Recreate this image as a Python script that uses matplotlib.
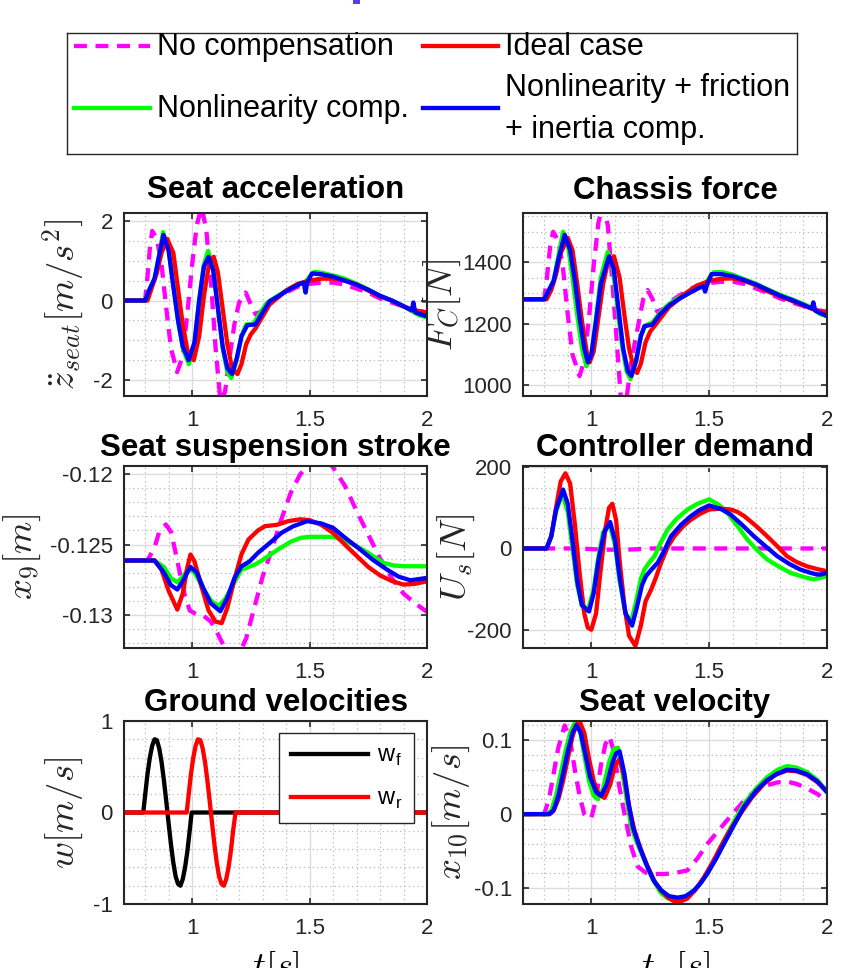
import numpy as np
import matplotlib
matplotlib.use("Agg")
import matplotlib.pyplot as plt
from matplotlib.ticker import MultipleLocator
from matplotlib.lines import Line2D
from matplotlib.patches import Rectangle

plt.rcParams.update({
    "font.family": ["Liberation Sans", "DejaVu Sans"],
    "mathtext.fontset": "cm",
    "axes.unicode_minus": False,
})

MAG, GRN, RED, BLU = "#ff00ff", "#00ff00", "#ff0000", "#0000ff"
INK = "#262626"

# ---------------------------------------------------------------------------
# data
# ---------------------------------------------------------------------------
# seat acceleration [m/s^2]
acc_t_nc = [0.70, 0.80, 0.81, 0.82, 0.83, 0.85, 0.87, 0.89, 0.91, 0.936, 0.96, 0.98, 1.00, 1.02, 1.04,
            1.06, 1.08, 1.10, 1.12, 1.14, 1.16, 1.18, 1.20, 1.228, 1.25, 1.27, 1.30, 1.34, 1.40, 1.45,
            1.50, 1.55, 1.60, 1.65, 1.70, 1.75, 1.80, 1.85, 1.90, 1.95, 2.00]
acc_nc = [0, 0, 0.6, 1.3, 1.75, 1.55, 0.9, -0.2, -1.2, -1.8, -1.4, -0.3, 0.9, 1.9, 2.35,
          1.8, 0.5, -1.2, -2.5, -2.3, -1.4, -0.6, -0.05, 0.2, -0.1, -0.35, -0.25, 0.0, 0.2, 0.35,
          0.42, 0.45, 0.45, 0.4, 0.3, 0.2, 0.05, -0.05, -0.15, -0.25, -0.3]
acc_t_id = [0.70, 0.81, 0.83, 0.85, 0.87, 0.894, 0.92, 0.94, 0.96, 0.98, 1.007, 1.03, 1.05, 1.07, 1.092,
            1.11, 1.13, 1.15, 1.17, 1.193, 1.21, 1.23, 1.25, 1.27, 1.30, 1.33, 1.36, 1.40, 1.45, 1.50,
            1.55, 1.60, 1.65, 1.70, 1.75, 1.80, 1.85, 1.90, 1.95, 2.00]
acc_id = [0, 0, 0.35, 0.7, 1.2, 1.55, 1.2, 0.3, -0.6, -1.25, -1.5, -0.9, 0.1, 0.85, 1.1,
          0.7, -0.2, -1.1, -1.7, -1.85, -1.6, -1.1, -0.85, -0.7, -0.4, -0.1, 0.05, 0.25, 0.42, 0.5,
          0.55, 0.55, 0.5, 0.4, 0.25, 0.1, 0.0, -0.15, -0.25, -0.3]
acc_t_nl = [0.70, 0.80, 0.82, 0.84, 0.855, 0.876, 0.90, 0.92, 0.94, 0.96, 0.986, 1.01, 1.03, 1.05, 1.068,
            1.09, 1.11, 1.13, 1.15, 1.167, 1.19, 1.21, 1.23, 1.26, 1.29, 1.32, 1.36, 1.40, 1.45, 1.48,
            1.50, 1.52, 1.55, 1.60, 1.65, 1.70, 1.75, 1.80, 1.85, 1.90, 1.94, 1.97, 2.00]
acc_nl = [0, 0, 0.3, 0.55, 0.95, 1.72, 1.3, 0.4, -0.5, -1.2, -1.6, -1.1, 0.0, 0.9, 1.25,
          0.8, -0.2, -1.2, -1.8, -1.95, -1.5, -0.9, -0.6, -0.6, -0.3, -0.05, 0.1, 0.25, 0.4, 0.45,
          0.6, 0.72, 0.7, 0.63, 0.55, 0.42, 0.28, 0.12, 0.0, -0.15, -0.28, -0.38, -0.42]
acc_t_fi = [0.70, 0.80, 0.82, 0.84, 0.855, 0.878, 0.90, 0.92, 0.94, 0.96, 0.985, 1.01, 1.03, 1.05, 1.07,
            1.09, 1.11, 1.13, 1.15, 1.17, 1.19, 1.21, 1.235, 1.27, 1.30, 1.33, 1.37, 1.42, 1.46, 1.475,
            1.483, 1.49, 1.51, 1.55, 1.60, 1.65, 1.70, 1.75, 1.80, 1.85, 1.90, 1.935, 1.942, 1.95, 2.00]
acc_fi = [0, 0, 0.3, 0.55, 1.0, 1.65, 1.25, 0.35, -0.5, -1.15, -1.5, -1.05, 0.0, 0.85, 1.1,
          0.75, -0.2, -1.15, -1.7, -1.85, -1.45, -0.9, -0.62, -0.6, -0.3, -0.02, 0.12, 0.3, 0.42, 0.45,
          0.2, 0.45, 0.68, 0.66, 0.6, 0.5, 0.4, 0.27, 0.12, 0.0, -0.14, -0.25, -0.05, -0.3, -0.4]

# chassis force [N]
fc_t_nc = [0.70, 0.80, 0.81, 0.825, 0.838, 0.86, 0.88, 0.90, 0.92, 0.95, 0.97, 0.99, 1.01, 1.03, 1.05,
           1.07, 1.09, 1.11, 1.127, 1.15, 1.17, 1.20, 1.22, 1.239, 1.26, 1.28, 1.31, 1.35, 1.40, 1.45,
           1.50, 1.55, 1.60, 1.65, 1.70, 1.75, 1.80, 1.85, 1.90, 1.95, 2.00]
fc_nc = [1280, 1280, 1340, 1450, 1500, 1470, 1380, 1230, 1100, 1030, 1080, 1220, 1390, 1530, 1590,
         1520, 1330, 1120, 940, 960, 1080, 1200, 1280, 1310, 1280, 1240, 1250, 1280, 1305, 1325,
         1333, 1337, 1337, 1330, 1315, 1300, 1283, 1270, 1258, 1245, 1240]
fc_t_id = [0.70, 0.81, 0.83, 0.85, 0.87, 0.90, 0.92, 0.94, 0.96, 0.98, 0.993, 1.01, 1.03, 1.05, 1.07,
           1.096, 1.12, 1.14, 1.16, 1.18, 1.194, 1.21, 1.23, 1.25, 1.27, 1.30, 1.33, 1.37, 1.40, 1.45,
           1.50, 1.55, 1.60, 1.65, 1.70, 1.75, 1.80, 1.85, 1.90, 1.95, 2.00]
fc_id = [1280, 1280, 1310, 1360, 1430, 1480, 1440, 1330, 1210, 1110, 1075, 1110, 1220, 1330, 1400,
         1420, 1350, 1230, 1120, 1055, 1040, 1070, 1140, 1175, 1195, 1225, 1255, 1280, 1300, 1325,
         1340, 1347, 1348, 1340, 1325, 1305, 1290, 1275, 1260, 1245, 1235]
fc_t_nl = [0.70, 0.80, 0.82, 0.84, 0.86, 0.88, 0.90, 0.92, 0.94, 0.96, 0.979, 1.00, 1.02, 1.04, 1.07,
           1.09, 1.11, 1.13, 1.15, 1.166, 1.19, 1.21, 1.23, 1.26, 1.29, 1.33, 1.37, 1.42, 1.46, 1.48,
           1.50, 1.52, 1.56, 1.60, 1.65, 1.70, 1.75, 1.80, 1.85, 1.90, 1.94, 1.97, 2.00]
fc_nl = [1280, 1280, 1310, 1340, 1420, 1500, 1460, 1350, 1230, 1120, 1062, 1100, 1220, 1350, 1435,
         1390, 1260, 1130, 1045, 1020, 1080, 1160, 1195, 1205, 1235, 1265, 1285, 1305, 1320, 1325,
         1350, 1368, 1368, 1360, 1345, 1330, 1312, 1295, 1280, 1265, 1250, 1232, 1225]
fc_t_fi = [0.70, 0.80, 0.82, 0.84, 0.86, 0.887, 0.91, 0.93, 0.95, 0.97, 0.985, 1.00, 1.02, 1.04, 1.075,
           1.095, 1.115, 1.135, 1.155, 1.17, 1.19, 1.21, 1.225, 1.26, 1.29, 1.33, 1.37, 1.42, 1.46, 1.475,
           1.483, 1.49, 1.51, 1.55, 1.60, 1.65, 1.70, 1.75, 1.80, 1.85, 1.90, 1.935, 1.942, 1.95, 2.00]
fc_fi = [1280, 1280, 1310, 1340, 1410, 1490, 1440, 1340, 1220, 1120, 1075, 1100, 1210, 1330, 1420,
         1380, 1250, 1120, 1045, 1030, 1080, 1160, 1192, 1198, 1230, 1260, 1280, 1302, 1318, 1322,
         1305, 1325, 1362, 1362, 1355, 1342, 1328, 1310, 1292, 1278, 1262, 1250, 1270, 1243, 1225]

# seat suspension stroke x9 [m]
x9_t_nc = [0.70, 0.81, 0.84, 0.86, 0.888, 0.91, 0.93, 0.95, 0.97, 0.99, 1.02, 1.05, 1.08, 1.11, 1.14,
           1.17, 1.20, 1.23, 1.26, 1.30, 1.34, 1.38, 1.42, 1.46, 1.50, 1.55, 1.58, 1.60, 1.65, 1.70,
           1.75, 1.80, 1.85, 1.90, 1.95, 2.00]
x9_nc = [-0.12614, -0.12614, -0.1252, -0.1241, -0.12357, -0.1241, -0.1256, -0.1272, -0.1287, -0.1297,
         -0.1300, -0.1301, -0.1305, -0.1314, -0.1324, -0.1329, -0.1328, -0.1317, -0.1298, -0.1273,
         -0.1253, -0.1232, -0.1213, -0.1200, -0.1192, -0.1189, -0.1190, -0.1195, -0.1208, -0.1226,
         -0.1243, -0.1260, -0.1274, -0.1285, -0.1292, -0.1298]
x9_t_id = [0.70, 0.84, 0.87, 0.90, 0.937, 0.96, 0.98, 0.993, 1.01, 1.04, 1.07, 1.10, 1.126, 1.15, 1.18,
           1.21, 1.24, 1.28, 1.31, 1.36, 1.41, 1.46, 1.50, 1.55, 1.60, 1.65, 1.70, 1.75, 1.80, 1.85,
           1.90, 1.95, 2.00]
x9_id = [-0.12614, -0.12614, -0.1268, -0.1283, -0.12964, -0.1285, -0.1266, -0.12571, -0.1262, -0.1280,
         -0.1297, -0.1305, -0.1306, -0.1295, -0.1275, -0.1257, -0.12464, -0.1240, -0.12369, -0.1236,
         -0.12333, -0.1232, -0.12326, -0.1236, -0.12417, -0.1250, -0.1258, -0.1266, -0.1272, -0.1276,
         -0.12786, -0.1278, -0.12762]
x9_t_nl = [0.70, 0.84, 0.88, 0.91, 0.937, 0.96, 0.986, 1.01, 1.05, 1.08, 1.112, 1.14, 1.17, 1.21, 1.24,
           1.267, 1.30, 1.365, 1.42, 1.463, 1.50, 1.55, 1.60, 1.65, 1.70, 1.75, 1.815, 1.86, 1.91, 2.00]
x9_nl = [-0.12614, -0.12614, -0.1266, -0.1274, -0.12769, -0.1273, -0.12667, -0.1270, -0.1282, -0.1290,
         -0.1294, -0.1289, -0.1280, -0.12679, -0.1266, -0.12643, -0.1261, -0.12536, -0.1248, -0.12452,
         -0.12445, -0.12445, -0.12445, -0.1247, -0.12512, -0.1256, -0.12631, -0.1265, -0.12655, -0.12655]
x9_t_fi = [0.70, 0.84, 0.88, 0.91, 0.937, 0.96, 0.993, 1.02, 1.05, 1.08, 1.12, 1.15, 1.18, 1.21, 1.245,
           1.28, 1.33, 1.38, 1.43, 1.49, 1.55, 1.60, 1.65, 1.716, 1.77, 1.83, 1.88, 1.93, 2.00]
x9_fi = [-0.12614, -0.12614, -0.1270, -0.1279, -0.12821, -0.1276, -0.1266, -0.1270, -0.1282, -0.1292,
         -0.12976, -0.1288, -0.1274, -0.12655, -0.1262, -0.1256, -0.1249, -0.12417, -0.1237, -0.12333,
         -0.1235, -0.12381, -0.1245, -0.12536, -0.1261, -0.12679, -0.1273, -0.12755, -0.12738]

# controller demand Us [N]
us_t_nc = [0.70, 0.95, 1.05, 1.15, 1.25, 2.00]
us_nc = [0, 0, -3, -3, 0, 0]
us_t_id = [0.70, 0.81, 0.83, 0.85, 0.87, 0.89, 0.91, 0.93, 0.95, 0.97, 0.985, 1.00, 1.02, 1.04, 1.06,
           1.075, 1.089, 1.105, 1.12, 1.14, 1.16, 1.187, 1.21, 1.23, 1.254, 1.275, 1.296, 1.325, 1.352,
           1.39, 1.423, 1.46, 1.50, 1.55, 1.59, 1.62, 1.648, 1.70, 1.746, 1.79, 1.83, 1.87, 1.915, 1.96,
           2.00]
us_id = [0, 0, 30, 100, 165, 185, 160, 60, -60, -160, -195, -200, -160, -50, 50,
         100, 110, 70, -30, -140, -215, -240, -190, -130, -101, -70, -35, 5, 30,
         55, 71, 85, 96, 98, 96, 90, 80, 55, 30, 5, -19, -33, -44, -51, -56]
us_t_nl = [0.70, 0.81, 0.83, 0.85, 0.876, 0.90, 0.92, 0.94, 0.96, 0.986, 1.01, 1.03, 1.05, 1.077, 1.10,
           1.12, 1.145, 1.169, 1.19, 1.21, 1.225, 1.245, 1.268, 1.295, 1.324, 1.36, 1.408, 1.45, 1.50,
           1.54, 1.577, 1.62, 1.662, 1.70, 1.746, 1.80, 1.845, 1.90, 1.944, 2.00]
us_nl = [0, 0, 30, 90, 135, 90, 0, -90, -140, -150, -100, -20, 40, 60, 10,
         -80, -160, -180, -130, -75, -52, -35, -19, 15, 47, 72, 96, 110, 121,
         108, 88, 55, 22, -2, -27, -46, -60, -70, -76, -68]
us_t_fi = [0.70, 0.81, 0.83, 0.85, 0.88, 0.90, 0.92, 0.94, 0.96, 0.99, 1.01, 1.03, 1.055, 1.08, 1.10,
           1.12, 1.145, 1.173, 1.195, 1.215, 1.232, 1.255, 1.282, 1.31, 1.338, 1.38, 1.423, 1.46, 1.50,
           1.55, 1.59, 1.64, 1.69, 1.74, 1.789, 1.84, 1.887, 1.93, 1.958, 1.975, 2.00]
us_fi = [0, 0, 30, 95, 145, 110, 20, -80, -140, -155, -110, -30, 40, 65, 20,
         -70, -160, -190, -140, -90, -68, -52, -35, -5, 30, 58, 80, 95, 106,
         97, 84, 58, 30, 5, -19, -38, -52, -60, -64, -64, -60]

# ground velocities [m/s]
w_t_f = [0.70, 0.792, 0.80, 0.81, 0.82, 0.83, 0.84, 0.85, 0.86, 0.87, 0.88, 0.89, 0.90, 0.91, 0.92,
         0.93, 0.94, 0.95, 0.96, 0.97, 0.98, 0.99, 0.998, 2.00]
w_f = [0, 0, 0.19, 0.42, 0.60, 0.73, 0.80, 0.79, 0.70, 0.55, 0.35, 0.12, -0.12, -0.35, -0.55,
       -0.70, -0.78, -0.80, -0.73, -0.60, -0.42, -0.19, 0, 0]
w_t_r = [0.70, 0.977, 0.985, 0.995, 1.005, 1.015, 1.025, 1.035, 1.045, 1.055, 1.065, 1.075, 1.085,
         1.095, 1.105, 1.115, 1.125, 1.135, 1.145, 1.155, 1.165, 1.175, 1.185, 2.00]
w_r = [0, 0, 0.19, 0.42, 0.60, 0.73, 0.80, 0.79, 0.70, 0.55, 0.35, 0.12, -0.12, -0.35, -0.55,
       -0.70, -0.78, -0.80, -0.73, -0.60, -0.42, -0.19, 0, 0]

# seat velocity x10 [m/s]
x10_t_nc = [0.70, 0.80, 0.82, 0.84, 0.86, 0.887, 0.91, 0.93, 0.95, 0.97, 0.99, 1.00, 1.02, 1.04, 1.06,
            1.077, 1.095, 1.12, 1.141, 1.17, 1.197, 1.23, 1.268, 1.31, 1.352, 1.408, 1.45, 1.493,
            1.535, 1.577, 1.62, 1.662, 1.70, 1.746, 1.79, 1.83, 1.87, 1.915, 1.96, 2.00]
x10_nc = [0, 0, 0.02, 0.055, 0.09, 0.12, 0.10, 0.06, 0.025, 0.0, -0.006, -0.005, 0.02, 0.065, 0.095,
          0.105, 0.085, 0.035, 0.0, -0.045, -0.071, -0.079, -0.081, -0.081, -0.080, -0.076, -0.060,
          -0.040, -0.024, -0.008, 0.008, 0.023, 0.032, 0.039, 0.043, 0.044, 0.041, 0.035, 0.027, 0.017]
x10_t_id = [0.70, 0.824, 0.84, 0.86, 0.88, 0.90, 0.92, 0.935, 0.951, 0.97, 0.99, 1.01, 1.03, 1.056, 1.08,
            1.10, 1.12, 1.14, 1.16, 1.183, 1.21, 1.239, 1.27, 1.296, 1.325, 1.352, 1.38, 1.408, 1.44,
            1.479, 1.515, 1.549, 1.59, 1.634, 1.68, 1.732, 1.78, 1.83, 1.87, 1.915, 1.96, 2.00]
x10_id = [0, 0, 0.005, 0.02, 0.045, 0.075, 0.105, 0.12, 0.125, 0.11, 0.075, 0.045, 0.027, 0.022, 0.04,
          0.065, 0.075, 0.05, 0.01, -0.022, -0.048, -0.071, -0.092, -0.103, -0.113, -0.118, -0.118,
          -0.114, -0.103, -0.085, -0.065, -0.044, -0.021, 0.001, 0.022, 0.041, 0.053, 0.059, 0.058,
          0.053, 0.043, 0.030]
x10_t_nl = [0.70, 0.81, 0.83, 0.85, 0.87, 0.89, 0.91, 0.932, 0.95, 0.97, 0.99, 1.01, 1.028, 1.05, 1.075,
            1.095, 1.113, 1.13, 1.15, 1.169, 1.195, 1.225, 1.26, 1.296, 1.325, 1.352, 1.385, 1.423,
            1.46, 1.493, 1.53, 1.563, 1.605, 1.648, 1.70, 1.746, 1.79, 1.83, 1.87, 1.915, 1.96, 2.00]
x10_nl = [0, 0, 0.005, 0.025, 0.055, 0.085, 0.11, 0.125, 0.115, 0.08, 0.045, 0.025, 0.02, 0.035, 0.07,
          0.088, 0.09, 0.06, 0.02, -0.017, -0.04, -0.062, -0.088, -0.107, -0.114, -0.116, -0.114,
          -0.107, -0.095, -0.08, -0.058, -0.035, -0.01, 0.014, 0.035, 0.05, 0.06, 0.065, 0.063, 0.057,
          0.046, 0.03]
x10_t_fi = [0.70, 0.82, 0.84, 0.86, 0.88, 0.90, 0.92, 0.937, 0.955, 0.975, 0.995, 1.02, 1.042, 1.065,
            1.09, 1.105, 1.12, 1.14, 1.158, 1.176, 1.20, 1.232, 1.265, 1.296, 1.33, 1.366, 1.40, 1.437,
            1.465, 1.493, 1.53, 1.563, 1.605, 1.648, 1.70, 1.746, 1.79, 1.83, 1.87, 1.915, 1.96, 2.00]
x10_fi = [0, 0, 0.005, 0.025, 0.055, 0.085, 0.11, 0.12, 0.11, 0.08, 0.05, 0.03, 0.025, 0.04,
          0.07, 0.082, 0.085, 0.055, 0.015, -0.017, -0.04, -0.067, -0.09, -0.103, -0.111, -0.113,
          -0.111, -0.103, -0.093, -0.08, -0.06, -0.04, -0.015, 0.01, 0.032, 0.046, 0.055, 0.06, 0.059,
          0.054, 0.044, 0.03]

LW = 3.1


def four(ax, tn, yn, tl, yl, ti, yi, tf, yf):
    ax.plot(tn, yn, color=MAG, lw=LW, dashes=(3, 2))
    ax.plot(tl, yl, color=GRN, lw=LW)
    ax.plot(ti, yi, color=RED, lw=LW)
    ax.plot(tf, yf, color=BLU, lw=LW)


def style(ax, ylim, yticks, yticklabels, yminor, ylabel, lab_x, title, tpad):
    ax.set_xlim(0.71, 2.0)
    ax.set_ylim(*ylim)
    ax.set_xticks([1, 1.5, 2])
    ax.set_xticklabels(["1", "1.5", "2"])
    ax.set_yticks(yticks)
    ax.set_yticklabels(yticklabels)
    ax.xaxis.set_minor_locator(MultipleLocator(0.1))
    ax.yaxis.set_minor_locator(MultipleLocator(yminor))
    ax.grid(which="major", color="#dcdcdc", lw=1.0, ls="-")
    ax.grid(which="minor", color="#b8b8b8", lw=0.9, ls=(0, (1, 2.5)))
    ax.set_axisbelow(True)
    ax.tick_params(which="major", direction="in", length=4, width=1.2, top=True, right=True,
                   labelsize=16, colors=INK, pad=8)
    ax.tick_params(axis="x", which="major", pad=10)
    ax.tick_params(which="minor", length=0, top=True, right=True)
    for s in ax.spines.values():
        s.set_color(INK)
        s.set_linewidth(1.5)
    ax.set_title(title, fontsize=22.5, fontweight="bold", pad=tpad)
    ax.set_ylabel(ylabel, fontsize=26.5, color=INK)
    ax.yaxis.set_label_coords(lab_x, 0.5)


fig = plt.figure(figsize=(8.44, 9.68), dpi=100)
W, H = 844.0, 968.0

def box(l, t, r, b):
    return [l / W, 1 - b / H, (r - l) / W, (b - t) / H]

ax1 = fig.add_axes(box(124, 213, 427, 396))
ax2 = fig.add_axes(box(523, 213, 827, 396))
ax3 = fig.add_axes(box(124, 466, 427, 648))
ax4 = fig.add_axes(box(523, 466, 827, 648))
ax5 = fig.add_axes(box(124, 721, 427, 904))
ax6 = fig.add_axes(box(523, 721, 827, 904))

four(ax1, acc_t_nc, acc_nc, acc_t_nl, acc_nl, acc_t_id, acc_id, acc_t_fi, acc_fi)
style(ax1, (-2.4, 2.2), [-2, 0, 2], ["-2", "0", "2"], 0.5,
      r"$\ddot{z}_{seat}[m/s^2]$", -0.129, "Seat acceleration", 10.5)

four(ax2, fc_t_nc, fc_nc, fc_t_nl, fc_nl, fc_t_id, fc_id, fc_t_fi, fc_fi)
style(ax2, (965, 1561), [1000, 1200, 1400], ["1000", "1200", "1400"], 50,
      r"$F_C[N]$", -0.197, "Chassis force", 10.0)

four(ax3, x9_t_nc, x9_nc, x9_t_nl, x9_nl, x9_t_id, x9_id, x9_t_fi, x9_fi)
style(ax3, (-0.13238, -0.11940), [-0.13, -0.125, -0.12], ["-0.13", "-0.125", "-0.12"], 0.001,
      r"$x_9[m]$", -0.267, "Seat suspension stroke", 7.0)

four(ax4, us_t_nc, us_nc, us_t_nl, us_nl, us_t_id, us_id, us_t_fi, us_fi)
style(ax4, (-245, 203), [-200, 0, 200], ["-200", "0", "200"], 50,
      r"$U_s[N]$", -0.151, "Controller demand", 7.5)

lf, = ax5.plot(w_t_f, w_f, color="black", lw=LW)
lr, = ax5.plot(w_t_r, w_r, color=RED, lw=LW)
style(ax5, (-1, 1), [-1, 0, 1], ["-1", "0", "1"], 0.2,
      r"$w[m/s]$", -0.129, "Ground velocities", 7.5)
leg = ax5.legend([lf, lr], [r"w$_\mathregular{f}$", r"w$_\mathregular{r}$"],
                 loc="upper right", bbox_to_anchor=(0.957, 0.934), fontsize=17,
                 handlelength=3.3, handletextpad=0.35, labelspacing=0.85, borderpad=0.5,
                 borderaxespad=0, fancybox=False, framealpha=1, edgecolor=INK)
leg.get_frame().set_linewidth(1.0)
ax5.set_xlabel(r"$t[s]$", fontsize=26, labelpad=7)

four(ax6, x10_t_nc, x10_nc, x10_t_nl, x10_nl, x10_t_id, x10_id, x10_t_fi, x10_fi)
style(ax6, (-0.1216, 0.126), [-0.1, 0, 0.1], ["-0.1", "0", "0.1"], 0.02,
      r"$x_{10}[m/s]$", -0.168, "Seat velocity", 7.5)
ax6.set_xlabel(r"$t\ \ [s]$", fontsize=26, labelpad=7)

# ---------------------------------------------------------------------------
# shared legend box at the top
# ---------------------------------------------------------------------------
axl = fig.add_axes(box(67, 33, 797, 154))
axl.set_xlim(0, 730)
axl.set_ylim(121, 0)
axl.set_xticks([])
axl.set_yticks([])
for s in axl.spines.values():
    s.set_color(INK)
    s.set_linewidth(1.0)
entries = [
    (MAG, (3, 2), 7, 83, 13, ["No compensation"]),
    (RED, None, 356, 431, 13, ["Ideal case"]),
    (GRN, None, 7, 83, 75, ["Nonlinearity comp."]),
    (BLU, None, 356, 431, 75, ["Nonlinearity + friction", "+ inertia comp."]),
]
for col, dash, x0, x1, yc, lines in entries:
    ln = Line2D([x0, x1], [yc, yc], color=col, lw=LW)
    if dash:
        ln.set_dashes(dash)
    axl.add_line(ln)
    if len(lines) == 1:
        axl.text(x1 + 7, yc + 1, lines[0], fontsize=22, va="center", ha="left", color="black")
    else:
        axl.text(x1 + 7, yc - 20, lines[0], fontsize=22, va="center", ha="left", color="black")
        axl.text(x1 + 7, yc + 22, lines[1], fontsize=22, va="center", ha="left", color="black")

# clipped remnant of a title above the figure
fig.add_artist(Rectangle((353 / W, 1 - 3.5 / H), 7 / W, 3.5 / H, transform=fig.transFigure,
                         color="#5a3cf0", lw=0))

fig.savefig("out.png", dpi=100, facecolor="white")
